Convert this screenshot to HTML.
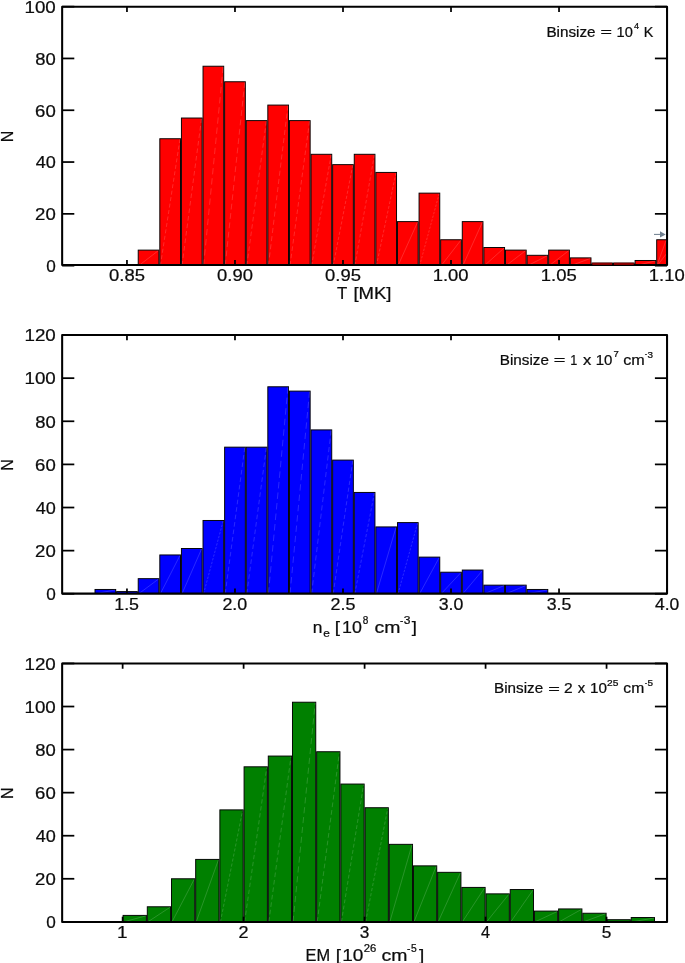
<!DOCTYPE html>
<html><head><meta charset="utf-8"><title>Histograms</title>
<style>
html,body{margin:0;padding:0;background:#fff;}
body{width:685px;height:963px;overflow:hidden;font-family:"Liberation Sans",sans-serif;}
svg{display:block;will-change:transform;}
.t{font-family:"Liberation Sans",sans-serif;fill:#0c0c0c;stroke:#0c0c0c;stroke-width:0.24px;}
</style></head><body>
<svg width="685" height="963" viewBox="0 0 685 963">
<rect x="0" y="0" width="685" height="963" fill="#ffffff"/>
<g>
<clipPath id="cp0"><rect x="62.15" y="6.80" width="604.90" height="258.30"/></clipPath>
<g clip-path="url(#cp0)">
<rect x="138.21" y="250.11" width="20.70" height="15.54" fill="#ff0000" stroke="#000" stroke-width="0.95"/>
<line x1="138.76" y1="265.65" x2="158.37" y2="250.61" stroke="#fff" stroke-opacity="0.27" stroke-width="0.6"/>
<rect x="159.82" y="138.74" width="20.70" height="126.91" fill="#ff0000" stroke="#000" stroke-width="0.95"/>
<line x1="160.37" y1="265.65" x2="179.97" y2="139.24" stroke="#fff" stroke-opacity="0.27" stroke-width="0.6" stroke-dasharray="4.05 2.48"/>
<rect x="181.42" y="118.02" width="20.70" height="147.63" fill="#ff0000" stroke="#000" stroke-width="0.95"/>
<line x1="181.97" y1="265.65" x2="201.57" y2="118.52" stroke="#fff" stroke-opacity="0.27" stroke-width="0.6" stroke-dasharray="4.69 2.88"/>
<rect x="203.02" y="66.22" width="20.70" height="199.43" fill="#ff0000" stroke="#000" stroke-width="0.95"/>
<line x1="203.57" y1="265.65" x2="223.18" y2="66.72" stroke="#fff" stroke-opacity="0.27" stroke-width="0.6" stroke-dasharray="6.32 3.87"/>
<rect x="224.63" y="81.76" width="20.70" height="183.89" fill="#ff0000" stroke="#000" stroke-width="0.95"/>
<line x1="225.18" y1="265.65" x2="244.78" y2="82.26" stroke="#fff" stroke-opacity="0.27" stroke-width="0.6" stroke-dasharray="5.83 3.58"/>
<rect x="246.23" y="120.61" width="20.70" height="145.04" fill="#ff0000" stroke="#000" stroke-width="0.95"/>
<line x1="246.78" y1="265.65" x2="266.38" y2="121.11" stroke="#fff" stroke-opacity="0.27" stroke-width="0.6" stroke-dasharray="4.61 2.83"/>
<rect x="267.83" y="105.07" width="20.70" height="160.58" fill="#ff0000" stroke="#000" stroke-width="0.95"/>
<line x1="268.38" y1="265.65" x2="287.99" y2="105.57" stroke="#fff" stroke-opacity="0.27" stroke-width="0.6" stroke-dasharray="5.10 3.13"/>
<rect x="289.44" y="120.61" width="20.70" height="145.04" fill="#ff0000" stroke="#000" stroke-width="0.95"/>
<line x1="289.99" y1="265.65" x2="309.59" y2="121.11" stroke="#fff" stroke-opacity="0.27" stroke-width="0.6" stroke-dasharray="4.61 2.83"/>
<rect x="311.04" y="154.28" width="20.70" height="111.37" fill="#ff0000" stroke="#000" stroke-width="0.95"/>
<line x1="311.59" y1="265.65" x2="331.19" y2="154.78" stroke="#fff" stroke-opacity="0.27" stroke-width="0.6" stroke-dasharray="3.56 2.18"/>
<rect x="332.64" y="164.64" width="20.70" height="101.01" fill="#ff0000" stroke="#000" stroke-width="0.95"/>
<line x1="333.19" y1="265.65" x2="352.80" y2="165.14" stroke="#fff" stroke-opacity="0.27" stroke-width="0.6" stroke-dasharray="3.24 1.99"/>
<rect x="354.25" y="154.28" width="20.70" height="111.37" fill="#ff0000" stroke="#000" stroke-width="0.95"/>
<line x1="354.80" y1="265.65" x2="374.40" y2="154.78" stroke="#fff" stroke-opacity="0.27" stroke-width="0.6" stroke-dasharray="3.56 2.18"/>
<rect x="375.85" y="172.41" width="20.70" height="93.24" fill="#ff0000" stroke="#000" stroke-width="0.95"/>
<line x1="376.40" y1="265.65" x2="396.01" y2="172.91" stroke="#fff" stroke-opacity="0.27" stroke-width="0.6" stroke-dasharray="3.00 1.84"/>
<rect x="397.46" y="221.62" width="20.70" height="44.03" fill="#ff0000" stroke="#000" stroke-width="0.95"/>
<line x1="398.01" y1="265.65" x2="417.61" y2="222.12" stroke="#fff" stroke-opacity="0.27" stroke-width="0.6"/>
<rect x="419.06" y="193.13" width="20.70" height="72.52" fill="#ff0000" stroke="#000" stroke-width="0.95"/>
<line x1="419.61" y1="265.65" x2="439.21" y2="193.63" stroke="#fff" stroke-opacity="0.27" stroke-width="0.6" stroke-dasharray="2.36 1.45"/>
<rect x="440.66" y="239.75" width="20.70" height="25.90" fill="#ff0000" stroke="#000" stroke-width="0.95"/>
<line x1="441.21" y1="265.65" x2="460.82" y2="240.25" stroke="#fff" stroke-opacity="0.27" stroke-width="0.6"/>
<rect x="462.27" y="221.62" width="20.70" height="44.03" fill="#ff0000" stroke="#000" stroke-width="0.95"/>
<line x1="462.82" y1="265.65" x2="482.42" y2="222.12" stroke="#fff" stroke-opacity="0.27" stroke-width="0.6"/>
<rect x="483.87" y="247.52" width="20.70" height="18.13" fill="#ff0000" stroke="#000" stroke-width="0.95"/>
<line x1="484.42" y1="265.65" x2="504.02" y2="248.02" stroke="#fff" stroke-opacity="0.27" stroke-width="0.6"/>
<rect x="505.47" y="250.11" width="20.70" height="15.54" fill="#ff0000" stroke="#000" stroke-width="0.95"/>
<line x1="506.02" y1="265.65" x2="525.63" y2="250.61" stroke="#fff" stroke-opacity="0.27" stroke-width="0.6"/>
<rect x="527.08" y="255.29" width="20.70" height="10.36" fill="#ff0000" stroke="#000" stroke-width="0.95"/>
<line x1="527.63" y1="265.65" x2="547.23" y2="255.79" stroke="#fff" stroke-opacity="0.27" stroke-width="0.6"/>
<rect x="548.68" y="250.11" width="20.70" height="15.54" fill="#ff0000" stroke="#000" stroke-width="0.95"/>
<line x1="549.23" y1="265.65" x2="568.83" y2="250.61" stroke="#fff" stroke-opacity="0.27" stroke-width="0.6"/>
<rect x="570.28" y="257.88" width="20.70" height="7.77" fill="#ff0000" stroke="#000" stroke-width="0.95"/>
<line x1="570.83" y1="265.65" x2="590.44" y2="258.38" stroke="#fff" stroke-opacity="0.27" stroke-width="0.6"/>
<rect x="591.89" y="263.06" width="20.70" height="2.59" fill="#ff0000" stroke="#000" stroke-width="0.95"/>
<rect x="613.49" y="263.06" width="20.70" height="2.59" fill="#ff0000" stroke="#000" stroke-width="0.95"/>
<rect x="635.09" y="260.47" width="20.70" height="5.18" fill="#ff0000" stroke="#000" stroke-width="0.95"/>
<line x1="635.64" y1="265.65" x2="655.25" y2="260.97" stroke="#fff" stroke-opacity="0.27" stroke-width="0.6"/>
<rect x="656.70" y="239.75" width="20.70" height="25.90" fill="#ff0000" stroke="#000" stroke-width="0.95"/>
<line x1="657.25" y1="265.65" x2="676.85" y2="240.25" stroke="#fff" stroke-opacity="0.27" stroke-width="0.6"/>
</g>
<rect x="62.15" y="6.80" width="604.90" height="258.30" fill="none" stroke="#000" stroke-width="2.05" stroke-linejoin="round"/>
<rect x="592.34" y="262.71" width="19.80" height="2.25" fill="#8a0000"/>
<rect x="613.94" y="262.71" width="19.80" height="2.25" fill="#8a0000"/>
<line x1="126.96" y1="265.10" x2="126.96" y2="259.90" stroke="#000" stroke-width="1.75"/>
<line x1="126.96" y1="6.80" x2="126.96" y2="12.00" stroke="#000" stroke-width="1.75"/>
<text transform="translate(109.02,281.30) scale(1.0724,1)" font-size="17.20" class="t">0.85</text>
<line x1="234.98" y1="265.10" x2="234.98" y2="259.90" stroke="#000" stroke-width="1.75"/>
<line x1="234.98" y1="6.80" x2="234.98" y2="12.00" stroke="#000" stroke-width="1.75"/>
<text transform="translate(217.04,281.30) scale(1.0710,1)" font-size="17.20" class="t">0.90</text>
<line x1="343.00" y1="265.10" x2="343.00" y2="259.90" stroke="#000" stroke-width="1.75"/>
<line x1="343.00" y1="6.80" x2="343.00" y2="12.00" stroke="#000" stroke-width="1.75"/>
<text transform="translate(325.06,281.30) scale(1.0724,1)" font-size="17.20" class="t">0.95</text>
<line x1="451.01" y1="265.10" x2="451.01" y2="259.90" stroke="#000" stroke-width="1.75"/>
<line x1="451.01" y1="6.80" x2="451.01" y2="12.00" stroke="#000" stroke-width="1.75"/>
<text transform="translate(432.73,281.30) scale(1.0724,1)" font-size="17.20" class="t">1.00</text>
<line x1="559.03" y1="265.10" x2="559.03" y2="259.90" stroke="#000" stroke-width="1.75"/>
<line x1="559.03" y1="6.80" x2="559.03" y2="12.00" stroke="#000" stroke-width="1.75"/>
<text transform="translate(540.75,281.30) scale(1.0738,1)" font-size="17.20" class="t">1.05</text>
<line x1="667.05" y1="265.10" x2="667.05" y2="259.90" stroke="#000" stroke-width="1.75"/>
<line x1="667.05" y1="6.80" x2="667.05" y2="12.00" stroke="#000" stroke-width="1.75"/>
<text transform="translate(648.77,281.30) scale(1.0724,1)" font-size="17.20" class="t">1.10</text>
<line x1="62.15" y1="265.65" x2="74.30" y2="265.65" stroke="#000" stroke-width="1.75"/>
<line x1="667.05" y1="265.65" x2="654.90" y2="265.65" stroke="#000" stroke-width="1.75"/>
<text transform="translate(46.16,271.95) scale(0.9984,1)" font-size="17.20" class="t">0</text>
<line x1="62.15" y1="213.85" x2="74.30" y2="213.85" stroke="#000" stroke-width="1.75"/>
<line x1="667.05" y1="213.85" x2="654.90" y2="213.85" stroke="#000" stroke-width="1.75"/>
<text transform="translate(35.12,220.15) scale(1.0803,1)" font-size="17.20" class="t">20</text>
<line x1="62.15" y1="162.05" x2="74.30" y2="162.05" stroke="#000" stroke-width="1.75"/>
<line x1="667.05" y1="162.05" x2="654.90" y2="162.05" stroke="#000" stroke-width="1.75"/>
<text transform="translate(35.64,168.35) scale(1.0520,1)" font-size="17.20" class="t">40</text>
<line x1="62.15" y1="110.25" x2="74.30" y2="110.25" stroke="#000" stroke-width="1.75"/>
<line x1="667.05" y1="110.25" x2="654.90" y2="110.25" stroke="#000" stroke-width="1.75"/>
<text transform="translate(35.12,116.55) scale(1.0803,1)" font-size="17.20" class="t">60</text>
<line x1="62.15" y1="58.45" x2="74.30" y2="58.45" stroke="#000" stroke-width="1.75"/>
<line x1="667.05" y1="58.45" x2="654.90" y2="58.45" stroke="#000" stroke-width="1.75"/>
<text transform="translate(35.27,64.75) scale(1.0725,1)" font-size="17.20" class="t">80</text>
<line x1="62.15" y1="6.65" x2="74.30" y2="6.65" stroke="#000" stroke-width="1.75"/>
<line x1="667.05" y1="6.65" x2="654.90" y2="6.65" stroke="#000" stroke-width="1.75"/>
<text transform="translate(24.44,12.95) scale(1.0918,1)" font-size="17.20" class="t">100</text>
<text transform="translate(13.0,142.32) rotate(-90) scale(0.9281,1.0)" font-size="17.20" class="t">N</text>
</g>
<g>
<clipPath id="cp1"><rect x="62.15" y="335.00" width="604.90" height="258.60"/></clipPath>
<g clip-path="url(#cp1)">
<rect x="95.01" y="589.45" width="20.70" height="4.31" fill="#0000ff" stroke="#000" stroke-width="0.95"/>
<line x1="95.56" y1="593.76" x2="115.16" y2="589.95" stroke="#fff" stroke-opacity="0.27" stroke-width="0.6"/>
<rect x="116.61" y="591.60" width="20.70" height="2.16" fill="#0000ff" stroke="#000" stroke-width="0.95"/>
<rect x="138.21" y="578.67" width="20.70" height="15.09" fill="#0000ff" stroke="#000" stroke-width="0.95"/>
<line x1="138.76" y1="593.76" x2="158.37" y2="579.17" stroke="#fff" stroke-opacity="0.27" stroke-width="0.6"/>
<rect x="159.82" y="554.95" width="20.70" height="38.81" fill="#0000ff" stroke="#000" stroke-width="0.95"/>
<line x1="160.37" y1="593.76" x2="179.97" y2="555.45" stroke="#fff" stroke-opacity="0.27" stroke-width="0.6"/>
<rect x="181.42" y="548.48" width="20.70" height="45.28" fill="#0000ff" stroke="#000" stroke-width="0.95"/>
<line x1="181.97" y1="593.76" x2="201.57" y2="548.98" stroke="#fff" stroke-opacity="0.27" stroke-width="0.6"/>
<rect x="203.02" y="520.46" width="20.70" height="73.30" fill="#0000ff" stroke="#000" stroke-width="0.95"/>
<line x1="203.57" y1="593.76" x2="223.18" y2="520.96" stroke="#fff" stroke-opacity="0.27" stroke-width="0.6" stroke-dasharray="2.38 1.46"/>
<rect x="224.63" y="447.15" width="20.70" height="146.61" fill="#0000ff" stroke="#000" stroke-width="0.95"/>
<line x1="225.18" y1="593.76" x2="244.78" y2="447.65" stroke="#fff" stroke-opacity="0.27" stroke-width="0.6" stroke-dasharray="4.66 2.86"/>
<rect x="246.23" y="447.15" width="20.70" height="146.61" fill="#0000ff" stroke="#000" stroke-width="0.95"/>
<line x1="246.78" y1="593.76" x2="266.38" y2="447.65" stroke="#fff" stroke-opacity="0.27" stroke-width="0.6" stroke-dasharray="4.66 2.86"/>
<rect x="267.83" y="386.78" width="20.70" height="206.98" fill="#0000ff" stroke="#000" stroke-width="0.95"/>
<line x1="268.38" y1="593.76" x2="287.99" y2="387.28" stroke="#fff" stroke-opacity="0.27" stroke-width="0.6" stroke-dasharray="6.56 4.02"/>
<rect x="289.44" y="391.10" width="20.70" height="202.66" fill="#0000ff" stroke="#000" stroke-width="0.95"/>
<line x1="289.99" y1="593.76" x2="309.59" y2="391.60" stroke="#fff" stroke-opacity="0.27" stroke-width="0.6" stroke-dasharray="6.42 3.94"/>
<rect x="311.04" y="429.90" width="20.70" height="163.86" fill="#0000ff" stroke="#000" stroke-width="0.95"/>
<line x1="311.59" y1="593.76" x2="331.19" y2="430.40" stroke="#fff" stroke-opacity="0.27" stroke-width="0.6" stroke-dasharray="5.20 3.19"/>
<rect x="332.64" y="460.09" width="20.70" height="133.67" fill="#0000ff" stroke="#000" stroke-width="0.95"/>
<line x1="333.19" y1="593.76" x2="352.80" y2="460.59" stroke="#fff" stroke-opacity="0.27" stroke-width="0.6" stroke-dasharray="4.26 2.61"/>
<rect x="354.25" y="492.43" width="20.70" height="101.33" fill="#0000ff" stroke="#000" stroke-width="0.95"/>
<line x1="354.80" y1="593.76" x2="374.40" y2="492.93" stroke="#fff" stroke-opacity="0.27" stroke-width="0.6" stroke-dasharray="3.25 1.99"/>
<rect x="375.85" y="526.92" width="20.70" height="66.84" fill="#0000ff" stroke="#000" stroke-width="0.95"/>
<line x1="376.40" y1="593.76" x2="396.01" y2="527.42" stroke="#fff" stroke-opacity="0.27" stroke-width="0.6"/>
<rect x="397.46" y="522.61" width="20.70" height="71.15" fill="#0000ff" stroke="#000" stroke-width="0.95"/>
<line x1="398.01" y1="593.76" x2="417.61" y2="523.11" stroke="#fff" stroke-opacity="0.27" stroke-width="0.6" stroke-dasharray="2.32 1.42"/>
<rect x="419.06" y="557.11" width="20.70" height="36.65" fill="#0000ff" stroke="#000" stroke-width="0.95"/>
<line x1="419.61" y1="593.76" x2="439.21" y2="557.61" stroke="#fff" stroke-opacity="0.27" stroke-width="0.6"/>
<rect x="440.66" y="572.20" width="20.70" height="21.56" fill="#0000ff" stroke="#000" stroke-width="0.95"/>
<line x1="441.21" y1="593.76" x2="460.82" y2="572.70" stroke="#fff" stroke-opacity="0.27" stroke-width="0.6"/>
<rect x="462.27" y="570.04" width="20.70" height="23.72" fill="#0000ff" stroke="#000" stroke-width="0.95"/>
<line x1="462.82" y1="593.76" x2="482.42" y2="570.54" stroke="#fff" stroke-opacity="0.27" stroke-width="0.6"/>
<rect x="483.87" y="585.14" width="20.70" height="8.62" fill="#0000ff" stroke="#000" stroke-width="0.95"/>
<line x1="484.42" y1="593.76" x2="504.02" y2="585.64" stroke="#fff" stroke-opacity="0.27" stroke-width="0.6"/>
<rect x="505.47" y="585.14" width="20.70" height="8.62" fill="#0000ff" stroke="#000" stroke-width="0.95"/>
<line x1="506.02" y1="593.76" x2="525.63" y2="585.64" stroke="#fff" stroke-opacity="0.27" stroke-width="0.6"/>
<rect x="527.08" y="589.45" width="20.70" height="4.31" fill="#0000ff" stroke="#000" stroke-width="0.95"/>
<line x1="527.63" y1="593.76" x2="547.23" y2="589.95" stroke="#fff" stroke-opacity="0.27" stroke-width="0.6"/>
</g>
<rect x="62.15" y="335.00" width="604.90" height="258.60" fill="none" stroke="#000" stroke-width="2.05" stroke-linejoin="round"/>
<line x1="126.96" y1="593.60" x2="126.96" y2="588.40" stroke="#000" stroke-width="1.75"/>
<line x1="126.96" y1="335.00" x2="126.96" y2="340.20" stroke="#000" stroke-width="1.75"/>
<text transform="translate(114.28,610.20) scale(1.0351,1)" font-size="17.20" class="t">1.5</text>
<line x1="234.98" y1="593.60" x2="234.98" y2="588.40" stroke="#000" stroke-width="1.75"/>
<line x1="234.98" y1="335.00" x2="234.98" y2="340.20" stroke="#000" stroke-width="1.75"/>
<text transform="translate(222.43,610.20) scale(1.0400,1)" font-size="17.20" class="t">2.0</text>
<line x1="343.00" y1="593.60" x2="343.00" y2="588.40" stroke="#000" stroke-width="1.75"/>
<line x1="343.00" y1="335.00" x2="343.00" y2="340.20" stroke="#000" stroke-width="1.75"/>
<text transform="translate(330.45,610.20) scale(1.0420,1)" font-size="17.20" class="t">2.5</text>
<line x1="451.01" y1="593.60" x2="451.01" y2="588.40" stroke="#000" stroke-width="1.75"/>
<line x1="451.01" y1="335.00" x2="451.01" y2="340.20" stroke="#000" stroke-width="1.75"/>
<text transform="translate(438.70,610.20) scale(1.0302,1)" font-size="17.20" class="t">3.0</text>
<line x1="559.03" y1="593.60" x2="559.03" y2="588.40" stroke="#000" stroke-width="1.75"/>
<line x1="559.03" y1="335.00" x2="559.03" y2="340.20" stroke="#000" stroke-width="1.75"/>
<text transform="translate(546.72,610.20) scale(1.0321,1)" font-size="17.20" class="t">3.5</text>
<line x1="667.05" y1="593.60" x2="667.05" y2="588.40" stroke="#000" stroke-width="1.75"/>
<line x1="667.05" y1="335.00" x2="667.05" y2="340.20" stroke="#000" stroke-width="1.75"/>
<text transform="translate(655.01,610.20) scale(1.0185,1)" font-size="17.20" class="t">4.0</text>
<line x1="62.15" y1="593.76" x2="74.30" y2="593.76" stroke="#000" stroke-width="1.75"/>
<line x1="667.05" y1="593.76" x2="654.90" y2="593.76" stroke="#000" stroke-width="1.75"/>
<text transform="translate(46.16,600.06) scale(0.9984,1)" font-size="17.20" class="t">0</text>
<line x1="62.15" y1="550.64" x2="74.30" y2="550.64" stroke="#000" stroke-width="1.75"/>
<line x1="667.05" y1="550.64" x2="654.90" y2="550.64" stroke="#000" stroke-width="1.75"/>
<text transform="translate(35.12,556.94) scale(1.0803,1)" font-size="17.20" class="t">20</text>
<line x1="62.15" y1="507.52" x2="74.30" y2="507.52" stroke="#000" stroke-width="1.75"/>
<line x1="667.05" y1="507.52" x2="654.90" y2="507.52" stroke="#000" stroke-width="1.75"/>
<text transform="translate(35.64,513.82) scale(1.0520,1)" font-size="17.20" class="t">40</text>
<line x1="62.15" y1="464.40" x2="74.30" y2="464.40" stroke="#000" stroke-width="1.75"/>
<line x1="667.05" y1="464.40" x2="654.90" y2="464.40" stroke="#000" stroke-width="1.75"/>
<text transform="translate(35.12,470.70) scale(1.0803,1)" font-size="17.20" class="t">60</text>
<line x1="62.15" y1="421.28" x2="74.30" y2="421.28" stroke="#000" stroke-width="1.75"/>
<line x1="667.05" y1="421.28" x2="654.90" y2="421.28" stroke="#000" stroke-width="1.75"/>
<text transform="translate(35.27,427.58) scale(1.0725,1)" font-size="17.20" class="t">80</text>
<line x1="62.15" y1="378.16" x2="74.30" y2="378.16" stroke="#000" stroke-width="1.75"/>
<line x1="667.05" y1="378.16" x2="654.90" y2="378.16" stroke="#000" stroke-width="1.75"/>
<text transform="translate(24.44,384.46) scale(1.0918,1)" font-size="17.20" class="t">100</text>
<line x1="62.15" y1="335.04" x2="74.30" y2="335.04" stroke="#000" stroke-width="1.75"/>
<line x1="667.05" y1="335.04" x2="654.90" y2="335.04" stroke="#000" stroke-width="1.75"/>
<text transform="translate(24.44,341.34) scale(1.0918,1)" font-size="17.20" class="t">120</text>
<text transform="translate(13.0,470.67) rotate(-90) scale(0.9281,1.0)" font-size="17.20" class="t">N</text>
</g>
<g>
<clipPath id="cp2"><rect x="62.15" y="663.55" width="604.90" height="258.35"/></clipPath>
<g clip-path="url(#cp2)">
<rect x="123.09" y="915.39" width="23.30" height="6.46" fill="#008000" stroke="#000" stroke-width="0.95"/>
<line x1="123.64" y1="921.85" x2="145.84" y2="915.89" stroke="#fff" stroke-opacity="0.27" stroke-width="0.6"/>
<rect x="147.29" y="906.78" width="23.30" height="15.07" fill="#008000" stroke="#000" stroke-width="0.95"/>
<line x1="147.84" y1="921.85" x2="170.03" y2="907.28" stroke="#fff" stroke-opacity="0.27" stroke-width="0.6"/>
<rect x="171.48" y="878.78" width="23.30" height="43.07" fill="#008000" stroke="#000" stroke-width="0.95"/>
<line x1="172.03" y1="921.85" x2="194.23" y2="879.28" stroke="#fff" stroke-opacity="0.27" stroke-width="0.6"/>
<rect x="195.68" y="859.40" width="23.30" height="62.45" fill="#008000" stroke="#000" stroke-width="0.95"/>
<line x1="196.23" y1="921.85" x2="218.42" y2="859.90" stroke="#fff" stroke-opacity="0.27" stroke-width="0.6"/>
<rect x="219.87" y="809.88" width="23.30" height="111.97" fill="#008000" stroke="#000" stroke-width="0.95"/>
<line x1="220.42" y1="921.85" x2="242.62" y2="810.38" stroke="#fff" stroke-opacity="0.27" stroke-width="0.6" stroke-dasharray="3.17 1.95"/>
<rect x="244.07" y="766.81" width="23.30" height="155.04" fill="#008000" stroke="#000" stroke-width="0.95"/>
<line x1="244.62" y1="921.85" x2="266.82" y2="767.31" stroke="#fff" stroke-opacity="0.27" stroke-width="0.6" stroke-dasharray="4.36 2.67"/>
<rect x="268.27" y="756.05" width="23.30" height="165.80" fill="#008000" stroke="#000" stroke-width="0.95"/>
<line x1="268.82" y1="921.85" x2="291.01" y2="756.55" stroke="#fff" stroke-opacity="0.27" stroke-width="0.6" stroke-dasharray="4.66 2.86"/>
<rect x="292.46" y="702.21" width="23.30" height="219.64" fill="#008000" stroke="#000" stroke-width="0.95"/>
<line x1="293.01" y1="921.85" x2="315.21" y2="702.71" stroke="#fff" stroke-opacity="0.27" stroke-width="0.6" stroke-dasharray="6.15 3.77"/>
<rect x="316.66" y="751.74" width="23.30" height="170.11" fill="#008000" stroke="#000" stroke-width="0.95"/>
<line x1="317.21" y1="921.85" x2="339.40" y2="752.24" stroke="#fff" stroke-opacity="0.27" stroke-width="0.6" stroke-dasharray="4.78 2.93"/>
<rect x="340.85" y="784.04" width="23.30" height="137.81" fill="#008000" stroke="#000" stroke-width="0.95"/>
<line x1="341.40" y1="921.85" x2="363.60" y2="784.54" stroke="#fff" stroke-opacity="0.27" stroke-width="0.6" stroke-dasharray="3.89 2.38"/>
<rect x="365.05" y="807.73" width="23.30" height="114.12" fill="#008000" stroke="#000" stroke-width="0.95"/>
<line x1="365.60" y1="921.85" x2="387.80" y2="808.23" stroke="#fff" stroke-opacity="0.27" stroke-width="0.6" stroke-dasharray="3.23 1.98"/>
<rect x="389.25" y="844.33" width="23.30" height="77.52" fill="#008000" stroke="#000" stroke-width="0.95"/>
<line x1="389.80" y1="921.85" x2="411.99" y2="844.83" stroke="#fff" stroke-opacity="0.27" stroke-width="0.6"/>
<rect x="413.44" y="865.86" width="23.30" height="55.99" fill="#008000" stroke="#000" stroke-width="0.95"/>
<line x1="413.99" y1="921.85" x2="436.19" y2="866.36" stroke="#fff" stroke-opacity="0.27" stroke-width="0.6"/>
<rect x="437.64" y="872.32" width="23.30" height="49.53" fill="#008000" stroke="#000" stroke-width="0.95"/>
<line x1="438.19" y1="921.85" x2="460.38" y2="872.82" stroke="#fff" stroke-opacity="0.27" stroke-width="0.6"/>
<rect x="461.83" y="887.40" width="23.30" height="34.45" fill="#008000" stroke="#000" stroke-width="0.95"/>
<line x1="462.38" y1="921.85" x2="484.58" y2="887.90" stroke="#fff" stroke-opacity="0.27" stroke-width="0.6"/>
<rect x="486.03" y="893.86" width="23.30" height="27.99" fill="#008000" stroke="#000" stroke-width="0.95"/>
<line x1="486.58" y1="921.85" x2="508.78" y2="894.36" stroke="#fff" stroke-opacity="0.27" stroke-width="0.6"/>
<rect x="510.23" y="889.55" width="23.30" height="32.30" fill="#008000" stroke="#000" stroke-width="0.95"/>
<line x1="510.78" y1="921.85" x2="532.97" y2="890.05" stroke="#fff" stroke-opacity="0.27" stroke-width="0.6"/>
<rect x="534.42" y="911.08" width="23.30" height="10.77" fill="#008000" stroke="#000" stroke-width="0.95"/>
<line x1="534.97" y1="921.85" x2="557.17" y2="911.58" stroke="#fff" stroke-opacity="0.27" stroke-width="0.6"/>
<rect x="558.62" y="908.93" width="23.30" height="12.92" fill="#008000" stroke="#000" stroke-width="0.95"/>
<line x1="559.17" y1="921.85" x2="581.36" y2="909.43" stroke="#fff" stroke-opacity="0.27" stroke-width="0.6"/>
<rect x="582.81" y="913.24" width="23.30" height="8.61" fill="#008000" stroke="#000" stroke-width="0.95"/>
<line x1="583.36" y1="921.85" x2="605.56" y2="913.74" stroke="#fff" stroke-opacity="0.27" stroke-width="0.6"/>
<rect x="607.01" y="919.70" width="23.30" height="2.15" fill="#008000" stroke="#000" stroke-width="0.95"/>
<rect x="631.21" y="917.54" width="23.30" height="4.31" fill="#008000" stroke="#000" stroke-width="0.95"/>
<line x1="631.76" y1="921.85" x2="653.95" y2="918.04" stroke="#fff" stroke-opacity="0.27" stroke-width="0.6"/>
</g>
<rect x="62.15" y="663.55" width="604.90" height="258.35" fill="none" stroke="#000" stroke-width="2.05" stroke-linejoin="round"/>
<line x1="122.64" y1="921.90" x2="122.64" y2="916.70" stroke="#000" stroke-width="1.75"/>
<line x1="122.64" y1="663.55" x2="122.64" y2="668.75" stroke="#000" stroke-width="1.75"/>
<text transform="translate(117.12,938.20) scale(1.1023,1)" font-size="17.20" class="t">1</text>
<line x1="243.62" y1="921.90" x2="243.62" y2="916.70" stroke="#000" stroke-width="1.75"/>
<line x1="243.62" y1="663.55" x2="243.62" y2="668.75" stroke="#000" stroke-width="1.75"/>
<text transform="translate(238.62,938.20) scale(1.0478,1)" font-size="17.20" class="t">2</text>
<line x1="364.60" y1="921.90" x2="364.60" y2="916.70" stroke="#000" stroke-width="1.75"/>
<line x1="364.60" y1="663.55" x2="364.60" y2="668.75" stroke="#000" stroke-width="1.75"/>
<text transform="translate(359.85,938.20) scale(1.0037,1)" font-size="17.20" class="t">3</text>
<line x1="485.58" y1="921.90" x2="485.58" y2="916.70" stroke="#000" stroke-width="1.75"/>
<line x1="485.58" y1="663.55" x2="485.58" y2="668.75" stroke="#000" stroke-width="1.75"/>
<text transform="translate(481.11,938.20) scale(0.9440,1)" font-size="17.20" class="t">4</text>
<line x1="606.56" y1="921.90" x2="606.56" y2="916.70" stroke="#000" stroke-width="1.75"/>
<line x1="606.56" y1="663.55" x2="606.56" y2="668.75" stroke="#000" stroke-width="1.75"/>
<text transform="translate(601.77,938.20) scale(1.0037,1)" font-size="17.20" class="t">5</text>
<line x1="62.15" y1="921.85" x2="74.30" y2="921.85" stroke="#000" stroke-width="1.75"/>
<line x1="667.05" y1="921.85" x2="654.90" y2="921.85" stroke="#000" stroke-width="1.75"/>
<text transform="translate(46.16,928.15) scale(0.9984,1)" font-size="17.20" class="t">0</text>
<line x1="62.15" y1="878.78" x2="74.30" y2="878.78" stroke="#000" stroke-width="1.75"/>
<line x1="667.05" y1="878.78" x2="654.90" y2="878.78" stroke="#000" stroke-width="1.75"/>
<text transform="translate(35.12,885.08) scale(1.0803,1)" font-size="17.20" class="t">20</text>
<line x1="62.15" y1="835.72" x2="74.30" y2="835.72" stroke="#000" stroke-width="1.75"/>
<line x1="667.05" y1="835.72" x2="654.90" y2="835.72" stroke="#000" stroke-width="1.75"/>
<text transform="translate(35.64,842.02) scale(1.0520,1)" font-size="17.20" class="t">40</text>
<line x1="62.15" y1="792.65" x2="74.30" y2="792.65" stroke="#000" stroke-width="1.75"/>
<line x1="667.05" y1="792.65" x2="654.90" y2="792.65" stroke="#000" stroke-width="1.75"/>
<text transform="translate(35.12,798.95) scale(1.0803,1)" font-size="17.20" class="t">60</text>
<line x1="62.15" y1="749.59" x2="74.30" y2="749.59" stroke="#000" stroke-width="1.75"/>
<line x1="667.05" y1="749.59" x2="654.90" y2="749.59" stroke="#000" stroke-width="1.75"/>
<text transform="translate(35.27,755.89) scale(1.0725,1)" font-size="17.20" class="t">80</text>
<line x1="62.15" y1="706.52" x2="74.30" y2="706.52" stroke="#000" stroke-width="1.75"/>
<line x1="667.05" y1="706.52" x2="654.90" y2="706.52" stroke="#000" stroke-width="1.75"/>
<text transform="translate(24.44,712.82) scale(1.0918,1)" font-size="17.20" class="t">100</text>
<line x1="62.15" y1="663.45" x2="74.30" y2="663.45" stroke="#000" stroke-width="1.75"/>
<line x1="667.05" y1="663.45" x2="654.90" y2="663.45" stroke="#000" stroke-width="1.75"/>
<text transform="translate(24.44,669.75) scale(1.0918,1)" font-size="17.20" class="t">120</text>
<text transform="translate(13.0,799.09) rotate(-90) scale(0.9281,1.0)" font-size="17.20" class="t">N</text>
</g>
<g stroke="#708090" fill="#708090"><line x1="654.0" y1="234.4" x2="661" y2="234.4" stroke-width="1.05"/><path d="M665.7,234.4 L660.0,231.2 L660.0,237.6 Z" stroke="none"/></g>
<line x1="657.4" y1="264.2" x2="666.0" y2="240.6" stroke="#fff" stroke-opacity="0.27" stroke-width="0.6"/>
<text transform="translate(337.12,299.30) scale(0.9776,1)" font-size="17.20" class="t">T</text>
<text transform="translate(353.40,299.30) scale(1.0778,1)" font-size="17.20" class="t">[MK]</text>
<text transform="translate(312.82,632.60) scale(1.0123,1)" font-size="17.20" class="t">n</text>
<text transform="translate(323.19,637.10) scale(1.0638,1)" font-size="11.20" class="t">e</text>
<text transform="translate(334.77,632.60) scale(1.1047,1)" font-size="17.20" class="t">[</text>
<text transform="translate(341.96,632.60) scale(1.0375,1)" font-size="17.20" class="t">10</text>
<text transform="translate(362.77,623.90) scale(0.9709,1)" font-size="10.30" class="t">8</text>
<text transform="translate(374.47,632.60) scale(1.1296,1)" font-size="17.20" class="t">cm</text>
<text transform="translate(400.06,623.70) scale(0.9511,1)" font-size="10.30" class="t">-</text>
<text transform="translate(403.65,624.00) scale(1.1650,1)" font-size="10.30" class="t">3</text>
<text transform="translate(411.66,632.60) scale(1.0756,1)" font-size="17.20" class="t">]</text>
<text transform="translate(305.45,960.80) scale(0.9537,1)" font-size="17.20" class="t">EM</text>
<text transform="translate(335.67,960.80) scale(1.1047,1)" font-size="17.20" class="t">[</text>
<text transform="translate(342.17,960.80) scale(1.1074,1)" font-size="17.20" class="t">10</text>
<text transform="translate(363.73,952.10) scale(1.0973,1)" font-size="10.30" class="t">26</text>
<text transform="translate(381.57,960.80) scale(1.1296,1)" font-size="17.20" class="t">cm</text>
<text transform="translate(407.04,951.90) scale(0.9907,1)" font-size="10.30" class="t">-</text>
<text transform="translate(410.99,952.20) scale(1.0015,1)" font-size="10.30" class="t">5</text>
<text transform="translate(418.96,960.80) scale(1.1047,1)" font-size="17.20" class="t">]</text>
<text transform="translate(546.44,36.60) scale(0.9981,1)" font-size="15.30" class="t">Binsize</text>
<text transform="translate(600.46,36.00) scale(1.6141,1)" font-size="12.20" class="t">=</text>
<text transform="translate(616.60,36.60) scale(0.9566,1)" font-size="15.30" class="t">10</text>
<text transform="translate(634.10,28.90) scale(1.0351,1)" font-size="8.80" class="t">4</text>
<text transform="translate(643.72,36.60) scale(0.9362,1)" font-size="15.30" class="t">K</text>
<text transform="translate(499.74,364.80) scale(0.9981,1)" font-size="15.30" class="t">Binsize</text>
<text transform="translate(553.65,364.20) scale(1.6309,1)" font-size="12.20" class="t">=</text>
<text transform="translate(570.25,364.80) scale(0.8312,1)" font-size="15.30" class="t">1</text>
<text transform="translate(583.09,364.80) scale(1.0870,1)" font-size="15.30" class="t">x</text>
<text transform="translate(595.67,364.80) scale(0.9828,1)" font-size="15.30" class="t">10</text>
<text transform="translate(613.43,357.30) scale(1.0739,1)" font-size="8.80" class="t">7</text>
<text transform="translate(623.21,364.80) scale(1.0564,1)" font-size="15.30" class="t">cm</text>
<text transform="translate(644.67,357.30) scale(0.8349,1)" font-size="8.80" class="t">-</text>
<text transform="translate(647.43,357.50) scale(1.1244,1)" font-size="8.80" class="t">3</text>
<text transform="translate(494.04,693.40) scale(0.9960,1)" font-size="15.30" class="t">Binsize</text>
<text transform="translate(548.15,692.80) scale(1.6309,1)" font-size="12.20" class="t">=</text>
<text transform="translate(564.12,693.40) scale(1.0199,1)" font-size="15.30" class="t">2</text>
<text transform="translate(577.81,693.40) scale(0.9770,1)" font-size="15.30" class="t">x</text>
<text transform="translate(590.06,693.40) scale(0.9960,1)" font-size="15.30" class="t">10</text>
<text transform="translate(607.09,686.00) scale(1.1586,1)" font-size="8.80" class="t">25</text>
<text transform="translate(623.33,693.40) scale(1.0244,1)" font-size="15.30" class="t">cm</text>
<text transform="translate(644.67,685.90) scale(0.8349,1)" font-size="8.80" class="t">-</text>
<text transform="translate(647.50,686.10) scale(1.1244,1)" font-size="8.80" class="t">5</text>
</svg>
</body></html>
